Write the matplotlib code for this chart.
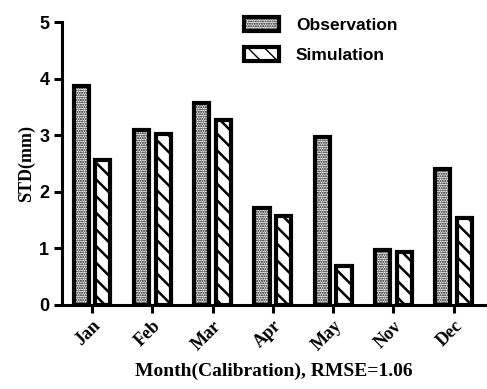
import numpy as np
import matplotlib.pyplot as plt

months = ['Jan', 'Feb', 'Mar', 'Apr', 'May', 'Nov', 'Dec']
observation = [3.87, 3.10, 3.57, 1.71, 2.97, 0.97, 2.40]
simulation = [2.57, 3.03, 3.27, 1.57, 0.69, 0.93, 1.53]

fig = plt.figure(figsize=(4.87, 3.89), dpi=100)
ax = fig.add_axes([0.127, 0.216, 0.869, 0.727])

x = np.arange(len(months))
w = 0.25
with plt.rc_context({'hatch.linewidth': 1.0, 'hatch.color': '#333333'}):
    ax.bar(x - 0.18, observation, w, color='white', edgecolor='black', linewidth=3.0,
           hatch='.......', label='Observation')
with plt.rc_context({'hatch.linewidth': 1.8}):
    ax.bar(x + 0.18, simulation, w, color='white', edgecolor='black', linewidth=3.0,
           hatch='\\\\', label='Simulation')

ax.set_xlim(-0.5, 6.52)
ax.set_ylim(0, 5)
ax.set_yticks([0, 1, 2, 3, 4, 5])
ax.set_xticks(x)
ax.set_xticklabels(months, rotation=45, ha='right', rotation_mode='anchor',
                   fontfamily='Liberation Serif', fontweight='bold', fontsize=13)
for lbl in ax.get_yticklabels():
    lbl.set_fontfamily('Liberation Sans')
    lbl.set_fontweight('bold')
    lbl.set_fontsize(13)

for s in ['top', 'right']:
    ax.spines[s].set_visible(False)
for s in ['left', 'bottom']:
    ax.spines[s].set_linewidth(2.2)
ax.tick_params(width=2.2, length=6, direction='out', pad=3)

ax.set_ylabel('STD(mm)', fontfamily='Liberation Serif', fontweight='bold', fontsize=13, labelpad=3)
ax.set_xlabel('Month(Calibration), RMSE=1.06', fontfamily='Liberation Serif',
              fontweight='bold', fontsize=14, labelpad=6)

ax.legend(loc='upper right', bbox_to_anchor=(0.83, 1.075), frameon=False,
          prop={'family': 'Liberation Sans', 'weight': 'bold', 'size': 12.5},
          handlelength=2.0, handleheight=0.9, labelspacing=0.8, handletextpad=1.0)

fig.savefig('out.png', dpi=100)
